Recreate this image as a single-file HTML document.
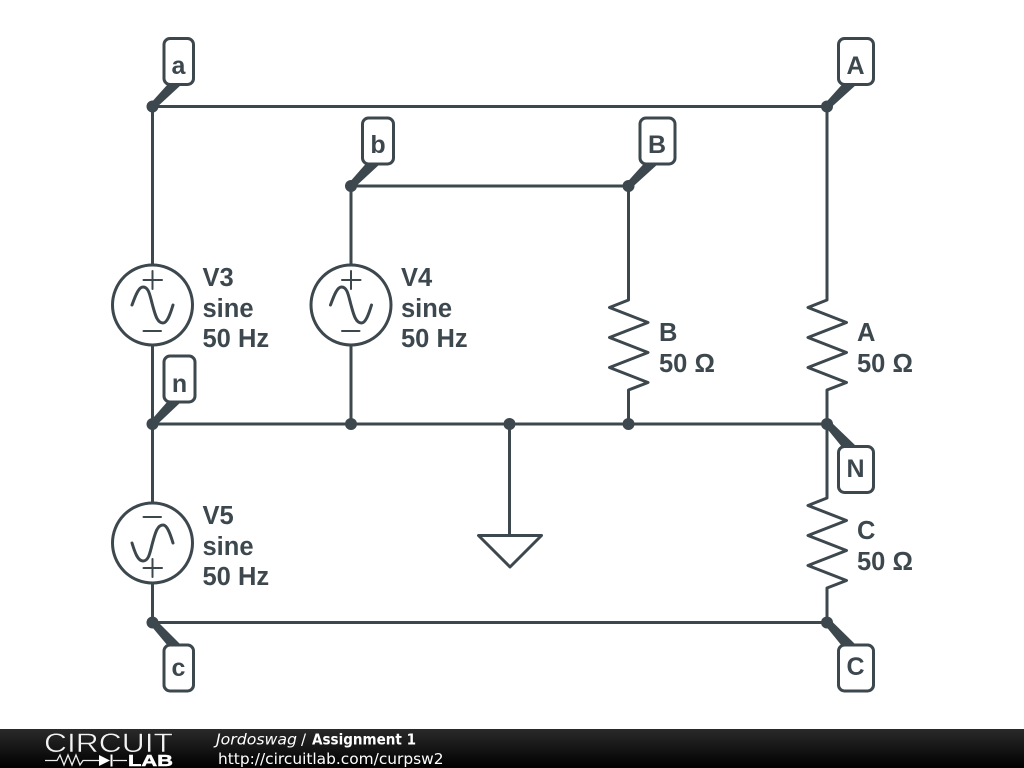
<!DOCTYPE html>
<html><head><meta charset="utf-8"><style>
html,body{margin:0;padding:0;background:#fff}
svg{display:block}
.t{font:bold 25.500px "Liberation Sans",sans-serif;fill:#3c474e}
.l{font:bold 25px "Liberation Sans",sans-serif;fill:#3c474e;text-anchor:middle}
</style></head><body>
<svg width="1024" height="768" viewBox="0 0 1024 768" xmlns="http://www.w3.org/2000/svg">
<defs><linearGradient id="g" x1="0" y1="0" x2="0" y2="1"><stop offset="0" stop-color="#2a2a2a"/><stop offset="1" stop-color="#000"/></linearGradient></defs>
<rect width="1024" height="768" fill="#fff"/>
<g fill="none" stroke="#3c474e" stroke-width="3" stroke-linejoin="round" stroke-linecap="round">
<path d="M152.500 106.500H827M152.500 106.500V265M152.500 345V503M152.500 583V622.500H827M351 186H628.500M351 186V265M351 345V424M152.500 424H827M509.500 424V535"/>
<path d="M628.500 186V300L609.500 307.500 648 322.500 609.500 337.500 648 352.500 609.500 367.500 648 382.500 628.500 390V424"/>
<path d="M827 106.500V300L808 307.500 846.500 322.500 808 337.500 846.500 352.500 808 367.500 846.500 382.500 827 390V498L808 505.500 846.500 520.500 808 535.500 846.500 550.500 808 565.500 846.500 580.500 827 588V622.500"/>
<path d="M478.500 535.500H541.500L510 567Z"/>
<circle cx="152.500" cy="305" r="40"/><circle cx="351" cy="305" r="40"/><circle cx="152.500" cy="543" r="40"/>
<path d="M132 305C136 294 139 287 143 287C149 287 150 296 152.500 305C155 314 157 323 163 323C167 323 170 315 173 305"/>
<path d="M330.500 305C334.500 294 337.500 287 341.500 287C347.500 287 348.500 296 351 305C353.500 314 355.500 323 361.500 323C365.500 323 368.500 315 371.500 305"/>
<path d="M132 543C135 553 138 561 143 561C149 561 150 552 152.500 543C155 534 157 525 163 525C167 525 170 533 173 543"/>
<g stroke-width="2">
<path d="M143.500 280H162M152.500 271V289M143.500 331H161"/>
<path d="M342 280H360.500M351 271V289M342 331H359.500"/>
<path d="M143.500 517H161M143.500 568H162M152.500 559V577"/>
</g>
</g>
<g fill="#3c474e">
<circle cx="152.500" cy="106.500" r="6"/><circle cx="827" cy="106.500" r="6"/><circle cx="351" cy="186" r="6"/><circle cx="628.500" cy="186" r="6"/><circle cx="152.500" cy="424" r="6"/><circle cx="351" cy="424" r="6"/><circle cx="509.500" cy="424" r="6"/><circle cx="628.500" cy="424" r="6"/><circle cx="827" cy="424" r="6"/><circle cx="152.500" cy="622.500" r="6"/><circle cx="827" cy="622.500" r="6"/>
<path d="M150 104L168 84H182L156 108Z"/>
<path d="M824.500 104L842.500 84H857L830.500 108Z"/>
<path d="M348.500 183.500L366.500 163H381L354.500 187.500Z"/>
<path d="M626 183.500L644.500 163H659L632 187.500Z"/>
<path d="M150 421.500L168 401H182L156 425.500Z"/>
<path d="M830.500 421.500L857 447H842L824.500 425.500Z"/>
<path d="M156 620L182 646H168L150 624.500Z"/>
<path d="M830.500 620L857 646H842L824.500 624.500Z"/>
</g>
<g fill="#fff" stroke="#3c474e" stroke-width="3">
<rect x="164" y="38.500" width="29.500" height="46" rx="6"/>
<rect x="838.500" y="38.500" width="35" height="46" rx="6"/>
<rect x="362.500" y="118" width="31" height="46" rx="6"/>
<rect x="640" y="118" width="35" height="46" rx="6"/>
<rect x="164" y="356" width="31" height="46" rx="6"/>
<rect x="838.500" y="446.500" width="35" height="46" rx="6"/>
<rect x="164" y="645" width="29.500" height="46" rx="6"/>
<rect x="838.500" y="645" width="35" height="46" rx="6"/>
</g>
<text class="l" x="178.500" y="74">a</text>
<text class="l" x="855.500" y="74">A</text>
<text class="l" x="378" y="153">b</text>
<text class="l" x="657" y="153">B</text>
<text class="l" x="179.500" y="392">n</text>
<text class="l" x="855.500" y="477">N</text>
<text class="l" x="178.500" y="676">c</text>
<text class="l" x="855.500" y="675">C</text>
<text class="t" x="202.500" y="286">V3</text><text class="t" x="202.500" y="317">sine</text><text class="t" x="202.500" y="347">50 Hz</text>
<text class="t" x="401" y="286">V4</text><text class="t" x="401" y="317">sine</text><text class="t" x="401" y="347">50 Hz</text>
<text class="t" x="202.500" y="524">V5</text><text class="t" x="202.500" y="555">sine</text><text class="t" x="202.500" y="585">50 Hz</text>
<text class="t" x="659" y="341">B</text><text class="t" x="659" y="372">50 Ω</text>
<text class="t" x="857" y="341">A</text><text class="t" x="857" y="372">50 Ω</text>
<text class="t" x="857" y="539">C</text><text class="t" x="857" y="570">50 Ω</text>
<rect y="729" width="1024" height="39" fill="url(#g)"/>
<text x="44" y="752" font-family="Liberation Sans,sans-serif" font-size="27" fill="#f2f2f2" stroke="#161616" stroke-width="0.500" textLength="129" lengthAdjust="spacingAndGlyphs">CIRCUIT</text>
<path d="M45 760.500H57L60 755 64 765 68 755 72 765 76 755 80 765 83 760.500H99M113 760.500H127" stroke="#eee" stroke-width="1.300" fill="none"/>
<path d="M99 755V766L110 760.500Z" fill="#fff"/><path d="M111.500 754.500V766.500" stroke="#fff" stroke-width="2"/>
<text x="128" y="766" font-family="Liberation Sans,sans-serif" font-weight="bold" font-size="16" fill="#fff" stroke="#fff" stroke-width="0.500" textLength="45" lengthAdjust="spacingAndGlyphs">LAB</text>
<text x="216" y="744.500" font-family="DejaVu Sans,sans-serif" font-size="15" font-style="italic" fill="#fff" textLength="81" lengthAdjust="spacingAndGlyphs">Jordoswag</text>
<text x="301" y="744.500" font-family="DejaVu Sans,sans-serif" font-size="15" fill="#fff">/</text>
<text x="312" y="744.500" font-family="DejaVu Sans,sans-serif" font-size="15" font-weight="bold" fill="#fff" textLength="104" lengthAdjust="spacingAndGlyphs">Assignment 1</text>
<text x="218" y="764" font-family="DejaVu Sans,sans-serif" font-size="15.400" fill="#fff">http://circuitlab.com/curpsw2</text>
</svg>
</body></html>
